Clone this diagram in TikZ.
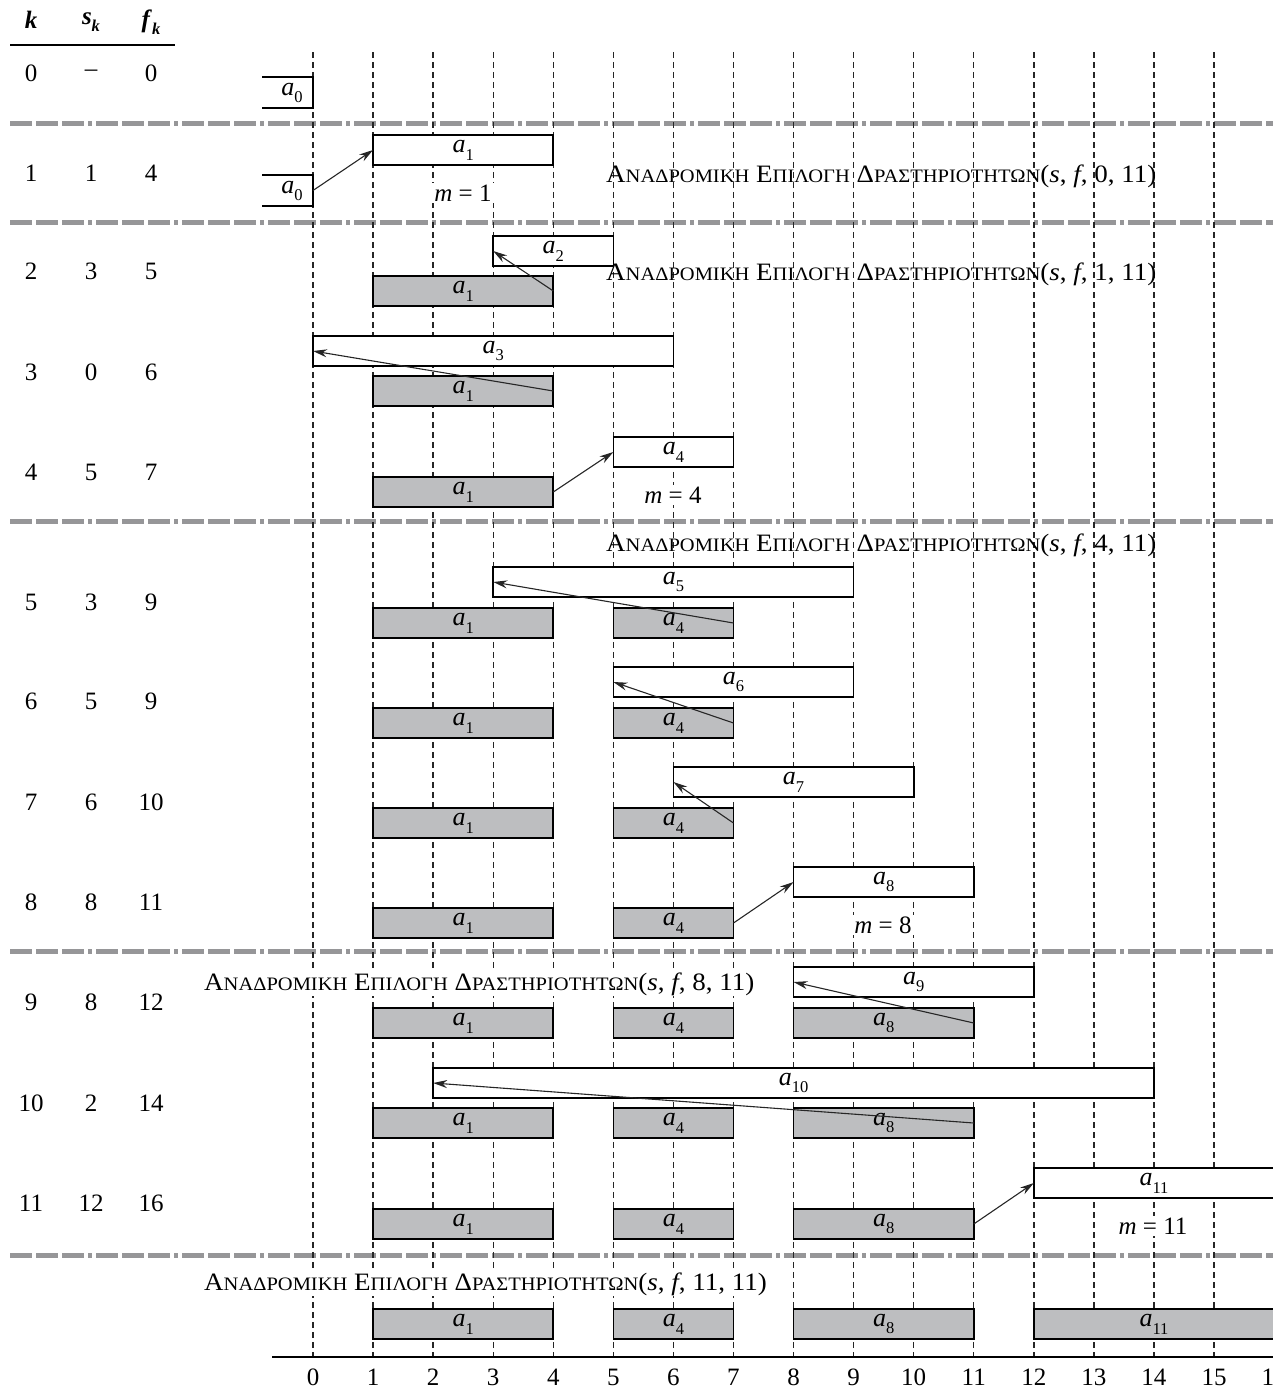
\documentclass[tikz,border=0pt]{standalone}
\usepackage{fontspec}
\setmainfont{Liberation Serif}
\usetikzlibrary{arrows.meta}
\definecolor{boxgray}{RGB}{189,190,192}
\definecolor{sepgray}{RGB}{150,150,152}
\newcommand\sbx[1]{\raisebox{-0.3em}{\fontsize{16.5}{16.5}\selectfont #1}}
\newcommand\act[1]{{\fontsize{26}{28}\selectfont\textit{a}\sbx{#1}}}
\newcommand\smc[1]{{\fontsize{19}{19}\selectfont #1}}
\newcommand\recall[2]{\scalebox{1.08}[1]{Α\smc{ΝΑΔΡΟΜΙΚΗ} Ε\smc{ΠΙΛΟΓΗ} Δ\smc{ΡΑΣΤΗΡΙΟΤΗΤΩΝ}(\textit{s}, \textit{f}, #1, #2)}}
\tikzset{
  wb/.style={draw, line width=1.7pt, fill=white, minimum height=30pt, inner sep=0pt, outer sep=0pt, anchor=north west},
  gb/.style={wb, fill=boxgray},
  vline/.style={line width=1.4pt, dash pattern=on 6pt off 4pt, black!85},
  sepline/.style={line width=5pt, sepgray, dash pattern=on 22pt off 4pt on 22pt off 4pt on 22pt off 4pt on 4pt off 4pt},
  arr/.style={-{Stealth[length=14pt,width=8pt]}, line width=1.1pt, black!85},
  mlab/.style={fill=white, inner sep=2pt},
  clab/.style={anchor=west, inner sep=1pt},
}
\newcommand\wbox[5]{\node[wb, minimum width={(#3-#2)*60.07pt}] (#1) at ({313+60.07*#2},#4) {#5};}
\newcommand\gbox[5]{\node[gb, minimum width={(#3-#2)*60.07pt}] (#1) at ({313+60.07*#2},#4) {#5};}
\begin{document}
\begin{tikzpicture}[x=1pt,y=-1pt, font=\fontsize{25}{28}\selectfont]
\useasboundingbox (0,0) rectangle (1273,1390);
% separators
\foreach \y in {123,222,521,951,1255} \draw[sepline] (10,\y) -- (1290,\y);
% vertical lines
\foreach \i in {0,...,16} \draw[vline] ({313+60.07*\i},52) -- ({313+60.07*\i},1357);
% table
\node (hk) at (31,20) {\textbf{\textit{k}}};
\node (hs) at (91,22) {\textbf{\textit{s}}\sbx{\textbf{\textit{k}}}};
\node (hf) at (151,22) {\textbf{\textit{f}}\sbx{\textbf{\textit{k}}}};
\draw[line width=1.6pt] (10,45) -- (175,45);
\foreach \k/\s/\f/\y in {0/--/0/73,1/1/4/173,2/3/5/271,3/0/6/372,4/5/7/472,5/3/9/602,6/5/9/701,7/6/10/802,8/8/11/902,9/8/12/1002,10/2/14/1103,11/12/16/1203}{
  \node (k\k) at (31,\y) {\k};
  \node (s\k) at (91,\y) {\s};
  \node (f\k) at (151,\y) {\f};
}
% row 0
\draw[line width=1.7pt] (262,77) -- (313,77) -- (313,108) -- (262,108);
\node (a00) at (292,93) {\act{0}};
% row 1
\draw[line width=1.7pt] (262,175) -- (313,175) -- (313,206) -- (262,206);
\node (a01) at (292,191) {\act{0}};
\coordinate (a0r) at (313,190.5);
\wbox{w1}{1}{4}{135}{\act{1}}
% row 2
\wbox{w2}{3}{5}{236}{\act{2}}
\gbox{g2}{1}{4}{276}{\act{1}}
% row 3
\wbox{w3}{0}{6}{336}{\act{3}}
\gbox{g3}{1}{4}{376}{\act{1}}
% row 4
\wbox{w4}{5}{7}{437}{\act{4}}
\gbox{g4}{1}{4}{477}{\act{1}}
% row 5
\wbox{w5}{3}{9}{567}{\act{5}}
\gbox{g5a}{1}{4}{608}{\act{1}}
\gbox{g5b}{5}{7}{608}{\act{4}}
% row 6
\wbox{w6}{5}{9}{667}{\act{6}}
\gbox{g6a}{1}{4}{708}{\act{1}}
\gbox{g6b}{5}{7}{708}{\act{4}}
% row 7
\wbox{w7}{6}{10}{767}{\act{7}}
\gbox{g7a}{1}{4}{808}{\act{1}}
\gbox{g7b}{5}{7}{808}{\act{4}}
% row 8
\wbox{w8}{8}{11}{867}{\act{8}}
\gbox{g8a}{1}{4}{908}{\act{1}}
\gbox{g8b}{5}{7}{908}{\act{4}}
% row 9
\wbox{w9}{8}{12}{967}{\act{9}}
\gbox{g9a}{1}{4}{1008}{\act{1}}
\gbox{g9b}{5}{7}{1008}{\act{4}}
\gbox{g9c}{8}{11}{1008}{\act{8}}
% row 10
\wbox{w10}{2}{14}{1068}{\act{10}}
\gbox{g10a}{1}{4}{1108}{\act{1}}
\gbox{g10b}{5}{7}{1108}{\act{4}}
\gbox{g10c}{8}{11}{1108}{\act{8}}
% row 11
\wbox{w11}{12}{16}{1168}{\act{11}}
\gbox{g11a}{1}{4}{1209}{\act{1}}
\gbox{g11b}{5}{7}{1209}{\act{4}}
\gbox{g11c}{8}{11}{1209}{\act{8}}
% final
\gbox{g12a}{1}{4}{1309}{\act{1}}
\gbox{g12b}{5}{7}{1309}{\act{4}}
\gbox{g12c}{8}{11}{1309}{\act{8}}
\gbox{g12d}{12}{16}{1309}{\act{11}}
% m labels
\node[mlab] (m1) at (463,193) {\textit{m} = 1};
\node[mlab] (m4) at (673,495) {\textit{m} = 4};
\node[mlab] (m8) at (883,925) {\textit{m} = 8};
\node[mlab] (m11) at (1153,1226) {\textit{m} = 11};
% recursive calls
\node[clab] (c1) at (605,176) {\recall{0}{11}};
\node[clab] (c2) at (605,274) {\recall{1}{11}};
\node[clab] (c3) at (605,545) {\recall{4}{11}};
\node[clab, fill=white] (c4) at (203,984) {\recall{8}{11}};
\node[clab, fill=white] (c5) at (203,1284) {\recall{11}{11}};
% arrows
\draw[arr] (a0r) -- (w1.west);
\draw[arr] (g2.east) -- (w2.west);
\draw[arr] (g3.east) -- (w3.west);
\draw[arr] (g4.east) -- (w4.west);
\draw[arr] (g5b.east) -- (w5.west);
\draw[arr] (g6b.east) -- (w6.west);
\draw[arr] (g7b.east) -- (w7.west);
\draw[arr] (g8b.east) -- (w8.west);
\draw[arr] (g9c.east) -- (w9.west);
\draw[arr] (g10c.east) -- (w10.west);
\draw[arr] (g11c.east) -- (w11.west);
% axis
\draw[line width=2pt] (272,1357) -- (1290,1357);
\foreach \i in {0,...,16} \node (t\i) at ({313+60.07*\i},1377) {\i};
\end{tikzpicture}
\end{document}
